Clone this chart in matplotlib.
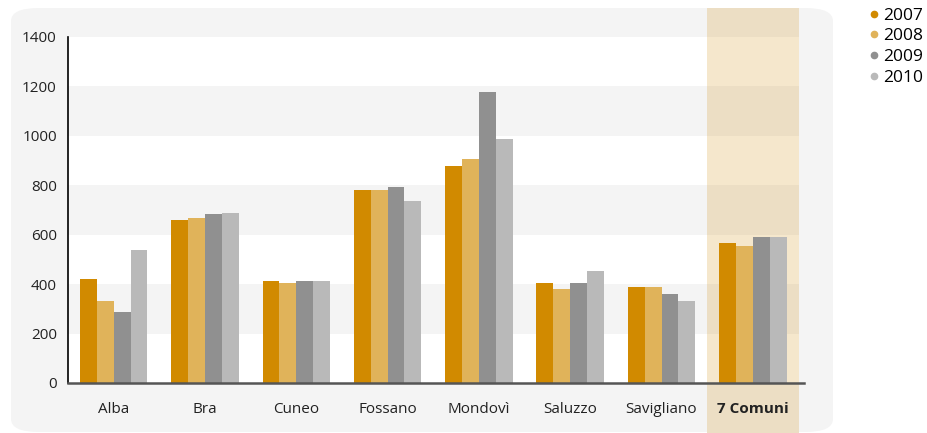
import matplotlib.pyplot as plt
import numpy as np
from matplotlib.patches import FancyBboxPatch, Rectangle
from matplotlib.lines import Line2D

plt.rcParams['font.family'] = ['Open Sans', 'DejaVu Sans']

comuni = ['Alba', 'Bra', 'Cuneo', 'Fossano', 'Mondovì', 'Saluzzo', 'Savigliano', '7 Comuni']
anni = ['2007', '2008', '2009', '2010']
v2007 = [421, 660, 413, 781, 878, 405, 389, 567]
v2008 = [332, 668, 405, 781, 907, 381, 389, 555]
v2009 = [288, 684, 413, 794, 1177, 405, 361, 591]
v2010 = [539, 688, 413, 737, 988, 454, 332, 591]
colori = ['#d18a00', '#e0b35a', '#909090', '#b9b9b9']

W, H = 928, 433
fig = plt.figure(figsize=(W / 100, H / 100), dpi=100)

# pannello grigio arrotondato
panel = FancyBboxPatch((11 / W, 1 / H), (833 - 11) / W, (433 - 8 - 1) / H,
                       boxstyle='round,pad=0,rounding_size=0.03',
                       transform=fig.transFigure, facecolor='#f4f4f4',
                       edgecolor='none', zorder=0)
fig.patches.append(panel)

ax = fig.add_axes([68 / W, 50 / H, (804 - 68) / W, (383 - 37) / H])
ax.set_zorder(1)
ax.set_facecolor('none')
ax.set_xlim(-0.5, 7.56)
ax.set_ylim(0, 1400)

# fasce orizzontali bianche
for lo in [0, 400, 800, 1200]:
    ax.fill_between([-0.5, 6.5], lo, lo + 200, color='white', lw=0, zorder=0)

# colonna evidenziata "7 Comuni"
ax.add_patch(Rectangle((6.5, -0.145 * 1400), 1.0, 1.23 * 1400, facecolor='#ecdec4',
                       edgecolor='none', clip_on=False, zorder=0))
for lo in [0, 400, 800, 1200]:
    ax.fill_between([6.5, 7.5], lo, lo + 200, color='#f5e7cc', lw=0, zorder=0.5)

x = np.arange(len(comuni))
bw = 0.185
serie = [v2007, v2008, v2009, v2010]
for i, (vals, c) in enumerate(zip(serie, colori)):
    ax.bar(x + (i - 1.5) * bw, vals, bw, color=c, zorder=2, label=anni[i])

ax.set_yticks(range(0, 1401, 200))
ax.set_xticks(x)
ax.set_xticklabels(comuni)
ax.tick_params(axis='both', length=0, labelsize=11, colors='#222222')
ax.tick_params(axis='x', pad=14)
ax.tick_params(axis='y', pad=8)
ax.get_xticklabels()[-1].set_fontweight('bold')

for s in ['top', 'right']:
    ax.spines[s].set_visible(False)
ax.spines['left'].set_color('black')
ax.spines['left'].set_linewidth(1.2)
ax.spines['bottom'].set_color('#555555')
ax.spines['bottom'].set_linewidth(1.8)
ax.spines['left'].set_zorder(3)
ax.spines['bottom'].set_zorder(3)

handles = [Line2D([], [], marker='o', ls='none', color=c, markersize=4.5) for c in colori]
fig.legend(handles, anni, loc='upper left', bbox_to_anchor=(862 / W, 1.0 - 4 / H),
           frameon=False, fontsize=12.5, handletextpad=0.0, labelspacing=0.26,
           handlelength=1.0, borderaxespad=0.0, borderpad=0.2)

fig.savefig('out.png', dpi=100)
